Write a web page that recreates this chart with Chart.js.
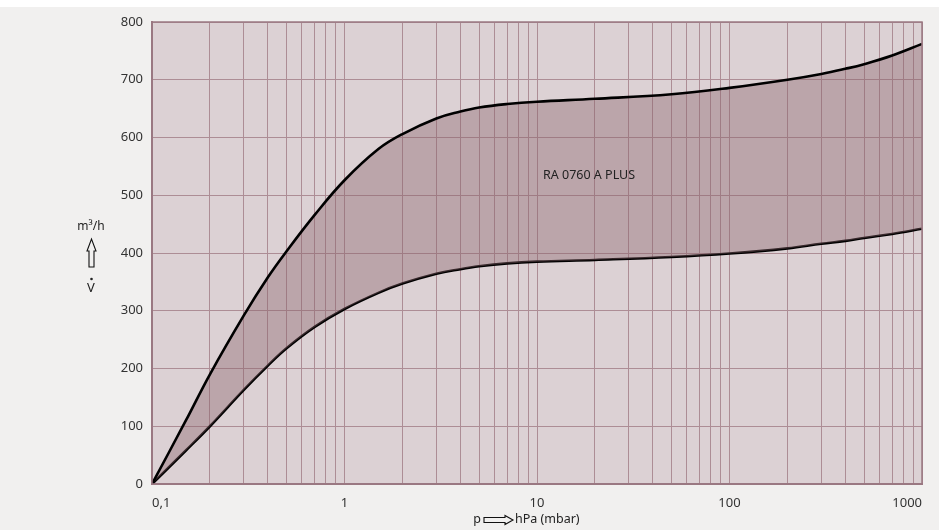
<!DOCTYPE html>
<html>
<head>
<meta charset="utf-8">
<script src="https://cdn.jsdelivr.net/npm/chart.js@4.4.1/dist/chart.umd.min.js"></script>
<style>
  html, body { margin: 0; padding: 0; background: #fff; }
  #wrap { width: 946px; height: 530px; position: relative; }
</style>
</head>
<body>
<div id="wrap"><canvas id="pumpChart" width="946" height="530"></canvas></div>
<script>
// data
const pressure  = [0.1, 0.15, 0.2, 0.3, 0.4, 0.5, 0.7, 1, 1.5, 2, 3, 4, 5, 7, 10, 20, 50, 100, 200, 300, 400, 500, 700, 1000];
const upperFlow = [0, 110, 190, 292, 358, 403, 466, 526, 580, 606, 633, 645, 652, 658, 662, 667, 675, 686, 700, 710, 719, 727, 742, 762];
const lowerFlow = [0, 58, 100, 163, 205, 235, 272, 303, 331, 347, 364, 372, 377, 382, 385, 388, 393, 399, 408, 416, 421, 426, 433, 442];

const xLabelValues = [0.1, 1, 10, 100, 1000];
const xLabels = ['0,1', '1', '10', '100', '1000'];
const yMin = 0, yMax = 800, yStep = 100;
const curveName = 'RA 0760 A PLUS';

// gridlines at 1..9 of every decade
const decades = [0.1, 1, 10, 100];
const gridValues = [];
decades.forEach(d => { for (let i = 1; i <= 9; i++) gridValues.push(d * i); });
gridValues.push(1000);

const FONT = '"Noto Sans", "DejaVu Sans", sans-serif';
const GRID = '#ad8d95';
const BORDER = '#9a7882';

const pts = arr => pressure.map((p, i) => ({ x: p, y: arr[i] }));

const bgPlugin = {
  id: 'bg',
  beforeDraw(chart) {
    const { ctx, chartArea: a } = chart;
    ctx.save();
    ctx.fillStyle = '#ffffff';
    ctx.fillRect(0, 0, chart.width, chart.height);
    ctx.fillStyle = '#f1f0ef';
    ctx.fillRect(0, 7, 939, chart.height - 7);
    ctx.fillStyle = '#dcd1d4';
    ctx.fillRect(a.left, a.top, a.right - a.left, a.bottom - a.top);
    ctx.restore();
  },
  afterDraw(chart) {
    const { ctx, chartArea: a } = chart;
    ctx.save();
    // frame
    ctx.strokeStyle = BORDER;
    ctx.lineWidth = 1.5;
    ctx.strokeRect(a.left, a.top, a.right - a.left, a.bottom - a.top);

    ctx.fillStyle = '#222';
    ctx.strokeStyle = '#111';
    ctx.lineWidth = 1.1;
    ctx.textBaseline = 'middle';

    // curve name
    ctx.font = '12.5px ' + FONT;
    ctx.textAlign = 'left';
    ctx.fillText(curveName, 543, 175);

    // y axis title: m³/h, up arrow, V-dot
    ctx.textAlign = 'center';
    ctx.font = '12px ' + FONT;
    ctx.fillText('m³/h', 91, 227);
    ctx.beginPath();
    ctx.moveTo(89, 267);
    ctx.lineTo(89, 251);
    ctx.lineTo(87, 251);
    ctx.lineTo(91.5, 239);
    ctx.lineTo(96, 251);
    ctx.lineTo(94, 251);
    ctx.lineTo(94, 267);
    ctx.closePath();
    ctx.stroke();
    ctx.font = '13px ' + FONT;
    ctx.fillText('V', 91, 288);
    ctx.beginPath();
    ctx.arc(91.5, 279, 1.3, 0, Math.PI * 2);
    ctx.fill();

    // x axis title: p => hPa (mbar)
    ctx.font = '12.5px ' + FONT;
    ctx.textAlign = 'right';
    ctx.fillText('p', 481, 519);
    ctx.beginPath();
    ctx.moveTo(484, 517.5);
    ctx.lineTo(505, 517.5);
    ctx.lineTo(505, 515.5);
    ctx.lineTo(513, 520);
    ctx.lineTo(505, 524.5);
    ctx.lineTo(505, 522.5);
    ctx.lineTo(484, 522.5);
    ctx.closePath();
    ctx.stroke();
    ctx.textAlign = 'left';
    ctx.fillText('hPa (mbar)', 515, 519);
    ctx.restore();
  }
};

const ctx = document.getElementById('pumpChart').getContext('2d');

new Chart(ctx, {
  type: 'line',
  data: {
    datasets: [
      {
        label: 'upper',
        data: pts(upperFlow),
        borderColor: '#000',
        borderWidth: 2.6,
        pointRadius: 0,
        tension: 0.4,
        fill: '+1',
        backgroundColor: 'rgba(137, 101, 107, 0.4)'
      },
      {
        label: 'lower',
        data: pts(lowerFlow),
        borderColor: '#000',
        borderWidth: 2.6,
        pointRadius: 0,
        tension: 0.4,
        fill: false
      }
    ]
  },
  options: {
    responsive: false,
    animation: false,
    layout: { padding: { left: 0, top: 22, right: 24, bottom: 0 } },
    plugins: {
      legend: { display: false },
      tooltip: { enabled: false }
    },
    scales: {
      x: {
        type: 'logarithmic',
        min: 0.1,
        max: 1000,
        afterBuildTicks: scale => { scale.ticks = gridValues.map(v => ({ value: v })); },
        afterFit: scale => { scale.height = 46; },
        grid: { color: GRID, lineWidth: 1, drawTicks: false },
        border: { color: BORDER, width: 2 },
        ticks: {
          autoSkip: false,
          maxRotation: 0,
          align: 'inner',
          padding: 11,
          color: '#333',
          font: { family: FONT, size: 13 },
          callback: value => {
            const i = xLabelValues.findIndex(v => Math.abs(v - value) < v * 1e-6);
            return i >= 0 ? xLabels[i] : '';
          }
        }
      },
      y: {
        min: yMin,
        max: yMax,
        afterFit: scale => { scale.width = 152; },
        grid: { color: GRID, lineWidth: 1, drawTicks: false },
        border: { color: BORDER, width: 2 },
        ticks: {
          stepSize: yStep,
          padding: 9,
          color: '#333',
          font: { family: FONT, size: 13 }
        }
      }
    }
  },
  plugins: [bgPlugin]
});
</script>
</body>
</html>
